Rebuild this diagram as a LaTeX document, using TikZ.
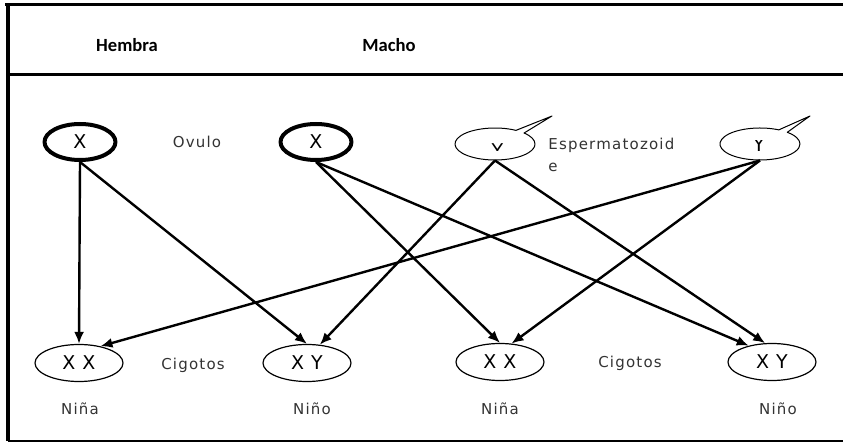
\documentclass[tikz,border=0pt]{standalone}
\usepackage{fontspec}
\setmainfont{DejaVu Sans}
\newfontfamily\headfont{Carlito}
\newfontfamily\lblfont[LetterSpace=8]{DejaVu Sans}
\usetikzlibrary{arrows.meta,shapes.geometric,shapes.callouts}
\tikzset{
    ovum/.style = {ellipse, draw, line width=2pt, minimum width=35.5pt, minimum height=18pt, inner sep=0pt, font=\fontsize{9.5}{11}\selectfont},
    sperm/.style = {ellipse callout, draw, line width=0.5pt, minimum width=40pt, minimum height=16pt, inner sep=0pt},
    zygote/.style = {ellipse, draw, line width=0.6pt, minimum width=44pt, minimum height=18.5pt, inner sep=0pt, font=\fontsize{9.5}{11}\selectfont},
    note/.style = {font=\lblfont\fontsize{7.5}{9}\selectfont, text=black!80, inner sep=0pt},
    head/.style = {font=\headfont\bfseries\fontsize{9.3}{11}\selectfont, inner sep=0pt},
    link/.style = {line width=1.2pt, -{Latex[length=6pt,width=5pt]}}
}
\newcommand{\pair}[2]{#1\hspace{3.5pt}#2}

\begin{document}
\begin{tikzpicture}[x=0.5pt, y=-0.5pt, line join=round]
	\useasboundingbox (0,0) rectangle (843,443);
	\draw [line width=1.5pt] (5,5) -- (843,5);
	\draw [line width=1.5pt] (8,4.5) -- (8,441);
	\draw [line width=1.5pt] (8,75) -- (843,75);
	\draw [line width=1pt] (8,441) -- (843,441);
	\node [head] (hembra) at (127,45) {Hembra};
	\node [head] (macho) at (389,45) {Macho};
	\node [ovum] (x1) at (80,142) {X};
	\node [ovum] (x2) at (316,142) {X};
	\node [note] (ovulo) at (197,142) {Ovulo};
	\node [sperm, callout absolute pointer={(552,116)}] (y1) at (495,144) {};
	\node [sperm, callout absolute pointer={(810,116)}] (y2) at (760,144) {};
	\begin{scope}
		\clip (480,139) rectangle (515,151);
		\node [inner sep=0pt, anchor=base, font=\fontsize{9.5}{11}\selectfont] (y1txt) at (497.5,158) {Y};
	\end{scope}
	\begin{scope}
		\clip (745,141) rectangle (775,160);
		\node [inner sep=0pt, anchor=base, font=\fontsize{9.5}{11}\selectfont] (y2txt) at (759,152) {Y};
	\end{scope}
	\node [note, anchor=base west] (esperm) at (548,150) {Espermatozoid};
	\node [note, anchor=base west] (espermb) at (548,172) {e};
	\node [zygote] (xx1) at (79,363) {\pair{X}{X}};
	\node [zygote] (xy1) at (307,363) {\pair{X}{Y}};
	\node [zygote] (xx2) at (500,362) {\pair{X}{X}};
	\node [zygote] (xy2) at (772,362) {\pair{X}{Y}};
	\node [note] (cig1) at (193,365) {Cigotos};
	\node [note] (cig2) at (630,363) {Cigotos};
	\node [note] (nina1) at (80,409) {Niña};
	\node [note] (nino1) at (312,409) {Niño};
	\node [note] (nina2) at (500,409) {Niña};
	\node [note] (nino2) at (778,409) {Niño};
	\draw [link] (x1.south) -- (xx1.north);
	\draw [link] (x1.south) -- (xy1.north);
	\draw [link] (x2.south) -- (xx2.north);
	\draw [link] (x2.south) -- (xy2.145);
	\draw [link] (y1.south) -- (xy1.55);
	\draw [link] (y1.south) -- (xy2.110);
	\draw [link] (y2.south) -- (xx1.38);
	\draw [link] (y2.south) -- (xx2.58);
\end{tikzpicture}
\end{document}
